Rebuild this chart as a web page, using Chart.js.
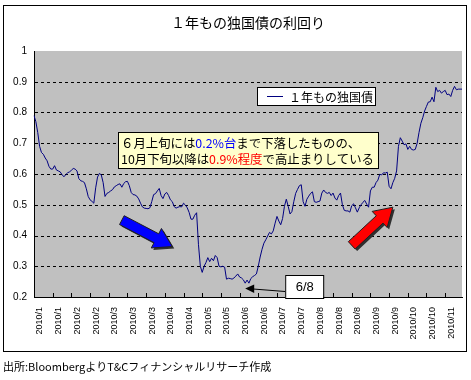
<!DOCTYPE html>
<html>
<head>
<meta charset="utf-8">
<script src="https://cdn.jsdelivr.net/npm/chart.js@4.4.0/dist/chart.umd.min.js"></script>
<style>
  html, body { margin: 0; padding: 0; background: #fff; }
</style>
</head>
<body>
<canvas id="myChart" width="471" height="380"></canvas>
<script>
// tick labels, one every 10 business days
const tickLabels = ['2010/1', '2010/1', '2010/2', '2010/2', '2010/3', '2010/3', '2010/3', '2010/4', '2010/4',
    '2010/5', '2010/5', '2010/6', '2010/6', '2010/7', '2010/7', '2010/8', '2010/8', '2010/8',
    '2010/9', '2010/9', '2010/10', '2010/10', '2010/11'];
const seriesName = '１年もの独国債';
// daily yield (%)
const yields = [
    0.79, 0.77, 0.735, 0.69, 0.67, 0.664, 0.652, 0.643, 0.625, 0.616,
    0.616, 0.627, 0.613, 0.61, 0.607, 0.598, 0.591, 0.598, 0.604, 0.607,
    0.612, 0.618, 0.616, 0.61, 0.585, 0.578, 0.576, 0.572, 0.552, 0.527,
    0.516, 0.511, 0.505, 0.555, 0.59, 0.602, 0.597, 0.572, 0.527, 0.537,
    0.54, 0.545, 0.549, 0.558, 0.562, 0.566, 0.568, 0.557, 0.569, 0.575,
    0.576, 0.562, 0.54, 0.533, 0.532, 0.528, 0.519, 0.505, 0.493, 0.489,
    0.488, 0.487, 0.49, 0.51, 0.533, 0.536, 0.545, 0.553, 0.53, 0.52,
    0.535, 0.54, 0.53, 0.516, 0.51, 0.494, 0.489, 0.492, 0.494, 0.493,
    0.505, 0.499, 0.49, 0.475, 0.453, 0.453, 0.466, 0.474, 0.37, 0.30,
    0.28, 0.3, 0.312, 0.328, 0.315, 0.326, 0.318, 0.335, 0.328, 0.3,
    0.298, 0.3, 0.297, 0.258, 0.261, 0.26, 0.258, 0.262, 0.268, 0.275,
    0.265, 0.262, 0.256, 0.245, 0.255, 0.245, 0.26, 0.266, 0.27, 0.275,
    0.3, 0.33, 0.355, 0.375, 0.386, 0.398, 0.41, 0.405, 0.415, 0.44,
    0.462, 0.447, 0.435, 0.455, 0.495, 0.518, 0.495, 0.47, 0.478, 0.51,
    0.537, 0.55, 0.562, 0.565, 0.51, 0.495, 0.518, 0.528, 0.537, 0.542,
    0.51, 0.508, 0.51, 0.512, 0.538, 0.548, 0.54, 0.537, 0.54, 0.53,
    0.538, 0.522, 0.515, 0.53, 0.538, 0.5, 0.482, 0.48, 0.48, 0.476,
    0.497, 0.503, 0.49, 0.476, 0.49, 0.5, 0.508, 0.514, 0.502, 0.492,
    0.545, 0.557, 0.557, 0.572, 0.58, 0.599, 0.597, 0.604, 0.603, 0.606,
    0.56, 0.552, 0.572, 0.586, 0.61, 0.69, 0.718, 0.707, 0.695, 0.698,
    0.68, 0.69, 0.68, 0.678, 0.68, 0.70, 0.735, 0.765, 0.783, 0.805,
    0.82, 0.834, 0.835, 0.85, 0.835, 0.882, 0.868, 0.872, 0.863, 0.868,
    0.872, 0.858, 0.86, 0.852, 0.872, 0.885, 0.874, 0.876, 0.876, 0.876
];
const tickEvery = 10;

const jpFont = "'Noto Sans CJK JP', sans-serif";
const numFont = "'Liberation Sans', Arial, sans-serif";

// month label for every point, only every 10th one is shown
const dayLabels = yields.map(function (v, i) { return tickLabels[Math.floor(i / tickEvery)]; });

function blockArrow(c, tx, ty, px, py, color) {
    var dx = px - tx, dy = py - ty, len = Math.sqrt(dx * dx + dy * dy);
    var ux = dx / len, uy = dy / len, nx = -uy, ny = ux;
    var sw = 5, hw = 11, hl = 18;
    var bx = px - ux * hl, by = py - uy * hl;
    var pts = [[tx + nx * sw, ty + ny * sw], [bx + nx * sw, by + ny * sw], [bx + nx * hw, by + ny * hw], [px, py],
        [bx - nx * hw, by - ny * hw], [bx - nx * sw, by - ny * sw], [tx - nx * sw, ty - ny * sw]];
    function path(ox, oy) {
        c.beginPath();
        pts.forEach(function (p, i) { i ? c.lineTo(p[0] + ox, p[1] + oy) : c.moveTo(p[0] + ox, p[1] + oy); });
        c.closePath();
    }
    c.fillStyle = '#303030';
    path(2, 2); c.fill();
    c.fillStyle = color;
    path(0, 0); c.fill();
    c.strokeStyle = '#202020'; c.lineWidth = 1;
    c.stroke();
}

function runsWidth(c, runs) {
    return runs.reduce(function (w, r) { return w + c.measureText(r[0]).width; }, 0);
}

function drawRuns(c, runs, x, y) {
    runs.forEach(function (r) {
        c.fillStyle = r[1];
        c.fillText(r[0], x, y);
        x += c.measureText(r[0]).width;
    });
}

const decor = {
    id: 'decor',
    beforeDraw: function (chart) {
        var c = chart.ctx, a = chart.chartArea;
        c.save();
        c.fillStyle = '#fff';
        c.fillRect(0, 0, chart.width, chart.height);
        c.strokeStyle = '#000'; c.lineWidth = 1;
        c.strokeRect(3.5, 5.5, 463, 346);
        c.fillStyle = '#c0c0c0';
        c.fillRect(a.left, a.top, a.right - a.left, a.bottom - a.top);
        c.restore();
    },
    beforeDatasetsDraw: function (chart) {
        // dashed horizontal gridlines
        var c = chart.ctx, a = chart.chartArea, ys = chart.scales.y;
        c.save();
        c.strokeStyle = '#000'; c.lineWidth = 1;
        c.setLineDash([3, 3]);
        c.beginPath();
        ys.ticks.forEach(function (t) {
            if (t.value <= ys.min + 1e-6 || t.value >= ys.max - 1e-6) return;
            var y = Math.round(ys.getPixelForValue(t.value)) + 0.5;
            c.moveTo(a.left + 1, y); c.lineTo(a.right, y);
        });
        c.stroke();
        c.restore();
    },
    afterDatasetsDraw: function (chart) {
        var c = chart.ctx, a = chart.chartArea;
        var xs = chart.scales.x, ys = chart.scales.y;
        c.save();

        // inward tick marks on the x axis
        c.strokeStyle = '#000'; c.lineWidth = 1;
        c.beginPath();
        for (var i = tickEvery; i < yields.length; i += tickEvery) {
            var tx = Math.round(xs.getPixelForValue(i)) + 0.5;
            c.moveTo(tx, a.bottom); c.lineTo(tx, a.bottom - 4);
        }
        c.stroke();

        // arrows
        blockArrow(c, xs.getPixelForValue(47), ys.getPixelForValue(0.45),
            xs.getPixelForValue(74), ys.getPixelForValue(0.364), '#0000ff');
        blockArrow(c, xs.getPixelForValue(170), ys.getPixelForValue(0.368),
            xs.getPixelForValue(192), ys.getPixelForValue(0.492), '#ff0000');

        // note box
        var nx = a.left + 84, ny = a.top + 81, nw = 260;
        var line1 = [['６月上旬には', '#000'], ['0.2%台', '#0000ff'], ['まで下落したものの、', '#000']];
        var line2 = [['10月下旬以降は', '#000'], ['0.9%程度', '#ff0000'], ['で高止まりしている', '#000']];
        c.fillStyle = '#ffffcc';
        c.fillRect(nx, ny, nw, 36);
        c.strokeStyle = '#000';
        c.strokeRect(nx + 0.5, ny + 0.5, nw, 36);
        var fs = 13;
        c.font = fs + 'px ' + jpFont;
        var wmax = Math.max(runsWidth(c, line1), runsWidth(c, line2));
        if (wmax > nw - 6) {
            fs = Math.floor(fs * (nw - 6) / wmax * 10) / 10;
            c.font = fs + 'px ' + jpFont;
        }
        c.textBaseline = 'middle';
        c.textAlign = 'left';
        drawRuns(c, line1, nx + 3, ny + 11);
        drawRuns(c, line2, nx + 3, ny + 27);

        // legend box
        var lx = a.left + 223, ly = a.top + 36;
        c.fillStyle = '#fff';
        c.fillRect(lx, ly, 118, 18);
        c.strokeStyle = '#000';
        c.strokeRect(lx + 0.5, ly + 0.5, 118, 18);
        c.strokeStyle = chart.data.datasets[0].borderColor;
        c.beginPath();
        c.moveTo(lx + 10, ly + 9.5); c.lineTo(lx + 26, ly + 9.5);
        c.stroke();
        c.fillStyle = '#000';
        c.font = '12px ' + jpFont;
        c.fillText(chart.data.datasets[0].label, lx + 32, ly + 10);

        // 6/8 callout
        var px = xs.getPixelForValue(113);
        var bx = px + 40, by = a.bottom - 22;
        c.strokeStyle = '#000';
        c.beginPath();
        c.moveTo(bx, a.bottom - 5.5); c.lineTo(px + 8, a.bottom - 8);
        c.stroke();
        c.fillStyle = '#000';
        c.beginPath();
        c.moveTo(px, a.bottom - 8.5); c.lineTo(px + 9, a.bottom - 12.5); c.lineTo(px + 9, a.bottom - 4); c.closePath();
        c.fill();
        c.fillStyle = '#fff';
        c.fillRect(bx, by, 38, 23);
        c.strokeRect(bx + 0.5, by + 0.5, 38, 23);
        c.fillStyle = '#000';
        c.font = '13px ' + numFont;
        c.textAlign = 'center';
        c.fillText('6/8', bx + 19.5, by + 12);

        c.restore();
    },
    afterDraw: function (chart) {
        var c = chart.ctx;
        c.save();
        c.fillStyle = '#000';
        c.font = '11px ' + jpFont;
        c.textBaseline = 'middle';
        c.fillText('出所:BloombergよりT&Cフィナンシャルリサーチ作成', 3, 367);
        c.restore();
    }
};

var ctx = document.getElementById('myChart').getContext('2d');
var myChart = new Chart(ctx, {
    type: 'line',
    data: {
        labels: dayLabels,
        datasets: [{
            label: seriesName,
            data: yields,
            borderColor: '#000080',
            borderWidth: 1,
            pointRadius: 0,
            tension: 0,
            fill: false
        }]
    },
    options: {
        responsive: false,
        animation: false,
        layout: { padding: { left: 0, right: 9, top: 0, bottom: 0 } },
        plugins: {
            legend: { display: false },
            tooltip: { enabled: false },
            title: {
                display: true,
                text: '１年もの独国債の利回り',
                fullSize: false,
                color: '#000',
                font: { family: jpFont, size: 14, weight: 'normal' },
                padding: { top: 14.6, bottom: 19.6 }
            }
        },
        scales: {
            x: {
                grid: { drawOnChartArea: false, drawTicks: false },
                border: { color: '#000', width: 1 },
                ticks: {
                    autoSkip: false,
                    minRotation: 90,
                    maxRotation: 90,
                    padding: 10,
                    labelOffset: 6,
                    color: '#000',
                    font: { family: numFont, size: 9 },
                    callback: function (val, i) {
                        return i % tickEvery === 0 ? this.getLabelForValue(val) : null;
                    }
                },
                afterFit: function (scale) {
                    scale.height = 83;
                    scale.paddingLeft = 0;
                    scale.paddingRight = 0;
                }
            },
            y: {
                min: 0.2,
                max: 1,
                grid: { drawOnChartArea: false, drawTicks: false },
                border: { color: '#000', width: 1 },
                ticks: {
                    stepSize: 0.1,
                    padding: 7,
                    color: '#000',
                    font: { family: numFont, size: 10 },
                    callback: function (v) { return String(Number(v.toFixed(1))); }
                },
                afterFit: function (scale) {
                    scale.width = 34;
                    scale.paddingTop = 0;
                    scale.paddingBottom = 0;
                }
            }
        }
    },
    plugins: [decor]
});
</script>
</body>
</html>
